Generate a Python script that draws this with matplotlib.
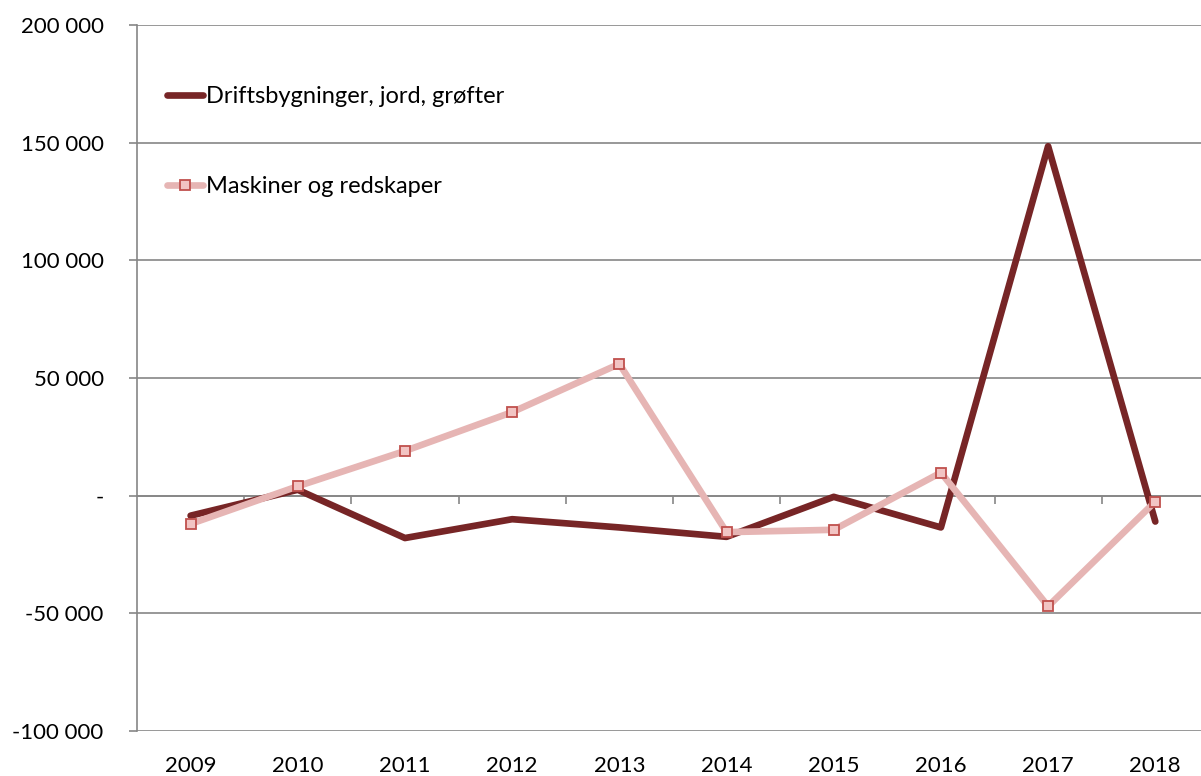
import numpy as np
import matplotlib.pyplot as plt
from matplotlib.ticker import FuncFormatter

years = ['2009', '2010', '2011', '2012', '2013', '2014', '2015', '2016', '2017', '2018']
drifts = [-8500, 2500, -18000, -10000, -13500, -17500, -500, -13500, 148500, -11000]
maskiner = [-12000, 4000, 19000, 35500, 56000, -15500, -14500, 9800, -47000, -2500]

plt.rcParams['font.family'] = ['Lato', 'DejaVu Sans']

dark = '#772526'
pink = '#e6b5b4'
grid = '#868686'

fig = plt.figure(figsize=(12.01, 7.76), dpi=100)
ax = fig.add_axes([137 / 1201, 1 - 731 / 776, 1 - 137 / 1201, (731 - 25) / 776])

x = np.arange(len(years))
ax.plot(x, drifts, color=dark, lw=4.8, solid_capstyle='round',
        label='Driftsbygninger, jord, grøfter')
ax.plot(x, maskiner, color=pink, lw=4.8, solid_capstyle='round',
        marker='s', ms=7, mfc='#f2c4c3', mec='#c0504d', mew=1.3,
        label='Maskiner og redskaper')

ax.set_ylim(-100000, 200000)
ax.set_xlim(-0.5, (1201 - 190.5) / 107.2)
ax.set_yticks(np.arange(-100000, 200001, 50000))

def fmt(v, pos):
    if v == 0:
        return '-'
    return f'{int(v):,}'.replace(',', ' ')

ax.yaxis.set_major_formatter(FuncFormatter(fmt))
ax.grid(axis='y', color=grid, lw=1.2)
ax.set_axisbelow(True)

for s in ['top', 'right', 'bottom']:
    ax.spines[s].set_visible(False)
ax.spines['left'].set_color(grid)
ax.spines['left'].set_linewidth(1.2)

ax.tick_params(axis='y', length=6, width=1.2, color=grid, pad=18, labelsize=16)
ax.set_xticks(x)
ax.set_xticklabels(years)
ax.tick_params(axis='x', length=0, pad=18, labelsize=16)

# zero line with category-boundary ticks
sec = ax.secondary_xaxis(1 / 3)
sec.set_xticks(np.arange(0.5, len(years) - 0.5, 1))
sec.set_xticklabels([])
sec.tick_params(length=6, width=1.2, color=grid, direction='out')
sec.spines['bottom'].set_color(grid)
sec.spines['bottom'].set_linewidth(1.2)

leg = ax.legend(loc='upper left', bbox_to_anchor=(0.008, 0.943), frameon=False,
                fontsize=17, labelspacing=2.9, handlelength=1.55, handletextpad=0.1)

fig.savefig('out.png', dpi=100)
